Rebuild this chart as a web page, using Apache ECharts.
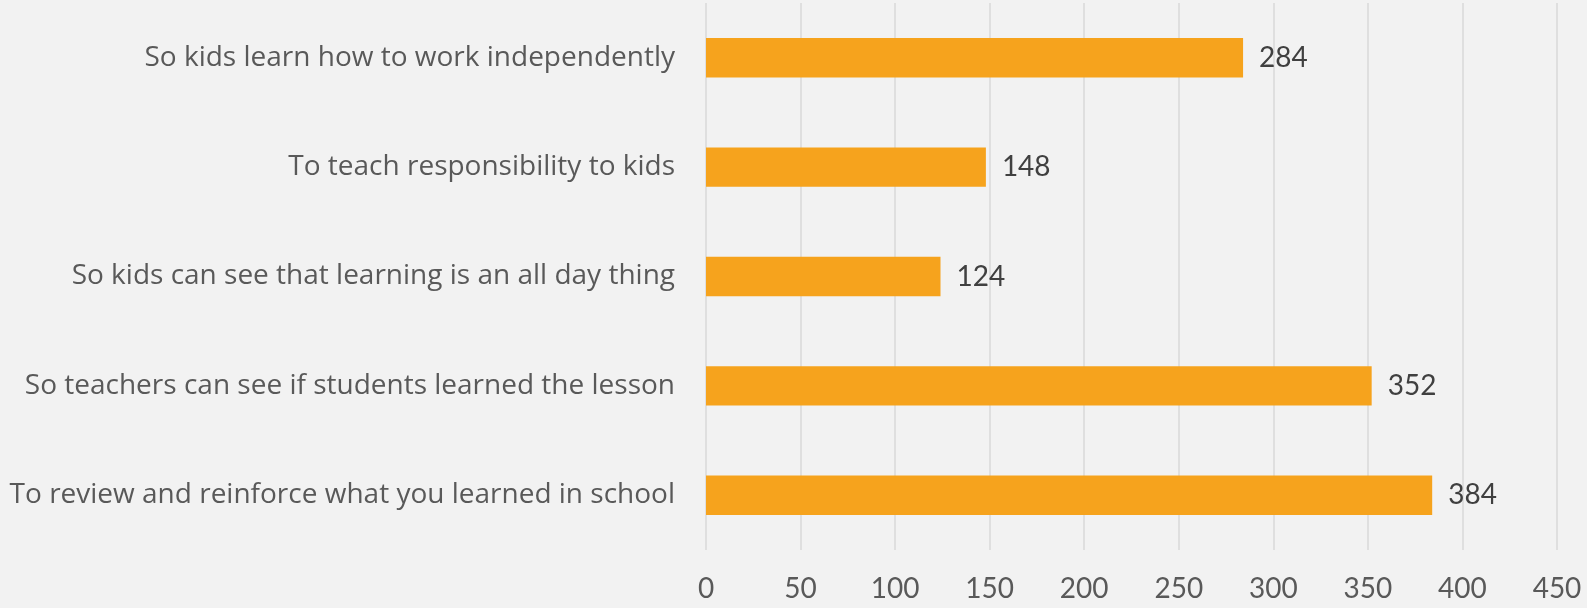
<!DOCTYPE html>
<html><head><meta charset="utf-8">
<script src="https://cdn.jsdelivr.net/npm/echarts@6/dist/echarts.min.js"></script>
<style>html,body{margin:0;padding:0;background:#f2f2f2;}#c{width:1587px;height:608px;}</style>
</head><body><div id="c"></div>
<script>
const categories = [
  "To review and reinforce what you learned in school",
  "So teachers can see if students learned the lesson",
  "So kids can see that learning is an all day thing",
  "To teach responsibility to kids",
  "So kids learn how to work independently"
];
const values = [384, 352, 124, 148, 284];
const xTicks = [0, 50, 100, 150, 200, 250, 300, 350, 400, 450];

const chart = echarts.init(document.getElementById('c'));
chart.setOption({
  backgroundColor: '#f2f2f2',
  animation: false,
  grid: { left: 706, right: 30, top: 3, bottom: 58, containLabel: false },
  xAxis: {
    type: 'value', min: xTicks[0], max: xTicks[xTicks.length-1], interval: 50,
    axisLine: { show: false }, axisTick: { show: false },
    splitLine: { show: true, lineStyle: { color: '#d9d9d9', width: 1.5 } },
    axisLabel: { color: '#595959', fontSize: 28, fontFamily: 'Lato', margin: 25 }
  },
  yAxis: {
    type: 'category', data: categories,
    axisLine: { show: false }, axisTick: { show: false },
    axisLabel: { color: '#595959', fontSize: 28, fontFamily: 'Open Sans', margin: 31 }
  },
  series: [{
    type: 'bar', data: values, barWidth: '36%',
    itemStyle: { color: '#f6a31d' },
    label: { show: true, position: 'right', distance: 16, color: '#404040', fontSize: 28, fontFamily: 'Lato' }
  }]
});
</script></body></html>
